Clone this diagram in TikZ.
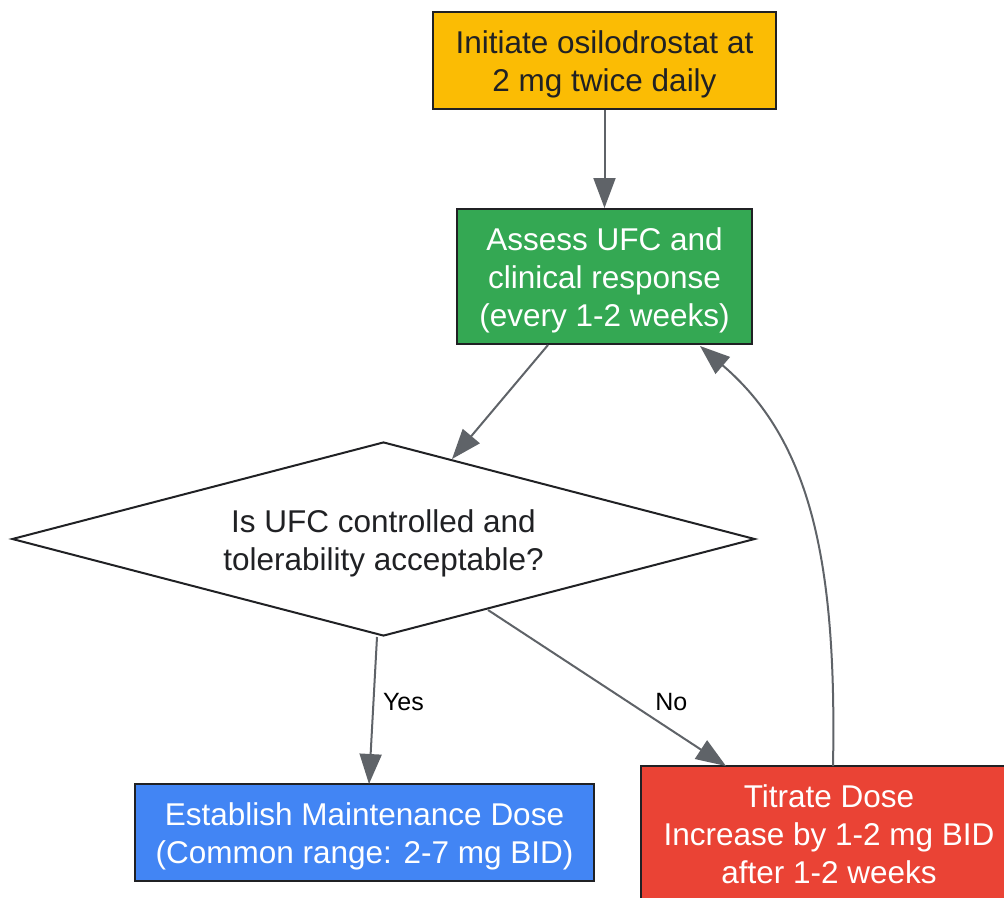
\documentclass[tikz,border=0pt]{standalone}
\usepackage{fontspec}
\setmainfont{Liberation Sans}
\usetikzlibrary{arrows.meta,shapes.geometric}
\definecolor{cyellow}{HTML}{FBBC04}
\definecolor{cgreen}{HTML}{34A853}
\definecolor{cblue}{HTML}{4285F4}
\definecolor{cred}{HTML}{EA4335}
\definecolor{cedge}{HTML}{5F6368}
\definecolor{cborder}{HTML}{202124}
\tikzset{
  box/.style={draw=cborder,line width=2pt,inner sep=0pt},
  txt/.style={align=center,inner sep=0pt,font=\fontsize{31.5}{38}\selectfont,yshift=-4pt},
  conn/.style={draw=cedge,line width=2pt,-{Triangle[length=30pt,width=22pt]}},
  elabel/.style={font=\fontsize{25}{30}\selectfont,text=black,anchor=center}
}
\begin{document}
\begin{tikzpicture}[x=1pt,y=-1pt]
\useasboundingbox (0,0) rectangle (1004,897);
\node[box,fill=cyellow,minimum width=343pt,minimum height=97pt] (start) at (604.5,60.5) {};
\node[txt,text=cborder] (starttxt) at (start.center) {Initiate osilodrostat at\\2 mg twice daily};
\node[box,fill=cgreen,minimum width=295pt,minimum height=135pt] (assess) at (604.5,276.5) {};
\node[txt,text=white] (assesstxt) at (assess.center) {Assess UFC and\\clinical response\\(every 1-2 weeks)};
\node[box,fill=white,diamond,aspect=3.83,minimum width=743pt,minimum height=194pt] (dec) at (383.5,539) {};
\node[txt,text=cborder] (dectxt) at (dec.center) {Is UFC controlled and\\tolerability acceptable?};
\node[box,fill=cblue,minimum width=459pt,minimum height=97pt] (maint) at (364.5,832.5) {};
\node[txt,text=white] (mainttxt) at (maint.center) {Establish Maintenance Dose\\(Common range: 2-7 mg BID)};
\node[box,fill=cred,minimum width=376pt,minimum height=136pt] (titr) at (829,834) {};
\node[txt,text=white,yshift=4pt] (titrtxt) at (titr.center) {Titrate Dose\\Increase by 1-2 mg BID\\after 1-2 weeks};
\coordinate (a1) at (548,345);
\coordinate (a2) at (452,459);
\coordinate (d1) at (377,637);
\coordinate (m1) at (369,784);
\coordinate (d2) at (488,610);
\coordinate (t1) at (726,766);
\coordinate (t2) at (833,766);
\coordinate (a3) at (700,346);
\draw[conn] (start) -- (assess);
\draw[conn] (a1) -- (a2);
\draw[conn] (d1) -- node[elabel,pos=0.44,xshift=30pt] {Yes} (m1);
\draw[conn] (d2) -- node[elabel,pos=0.59,xshift=43pt] {No} (t1);
\draw[conn] (t2) .. controls (837,560) and (810,440) .. (a3);
\end{tikzpicture}
\end{document}
